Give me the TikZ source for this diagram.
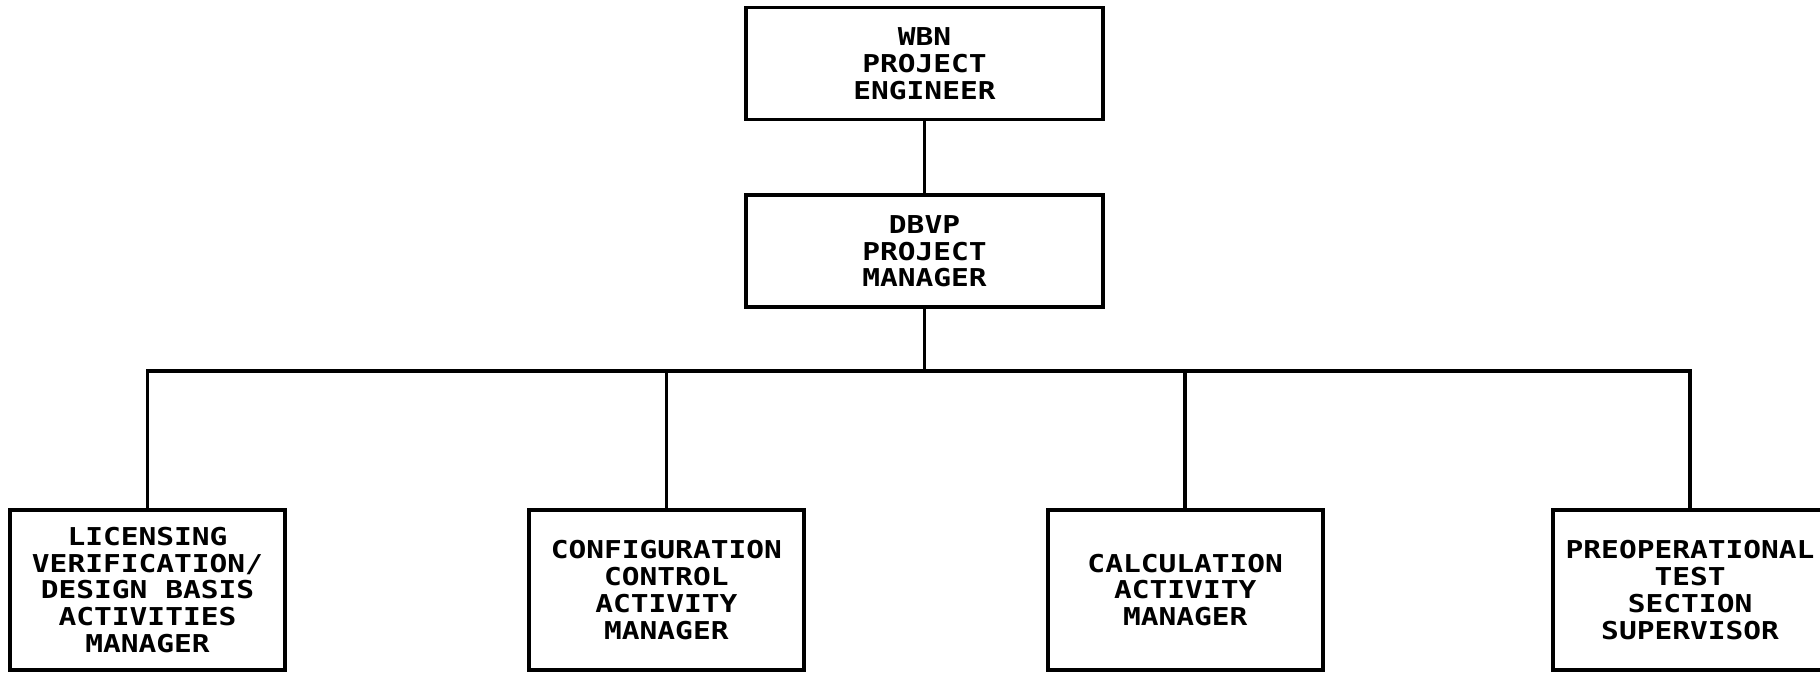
\documentclass[tikz,border=0pt]{standalone}
\usepackage{fontspec}
\newfontfamily\plotfont[FakeStretch=1.2]{DejaVu Sans Mono}
\usetikzlibrary{positioning}

\begin{document}
\begin{tikzpicture}[node distance=7.2mm and 24mm, line width=1pt,
	unit/.style={rectangle, draw, line width=1.1pt, align=center, inner sep=0pt,
		font=\plotfont\bfseries\fontsize{7pt}{7.6pt}\selectfont},
	top unit/.style={unit, minimum width=35.7mm, minimum height=11.2mm},
	low unit/.style={unit, minimum width=27.5mm, minimum height=16mm}]
    \useasboundingbox (0,0) rectangle (18.2,-6.76);

    \node [top unit] (engineer) at (9.245,-0.635) {WBN\\PROJECT\\ENGINEER};
    \node [top unit, below=of engineer] (manager) {DBVP\\PROJECT\\MANAGER};

    \node [low unit] (licensing) at (1.475,-5.9) {LICENSING\\VERIFICATION/\\DESIGN BASIS\\ACTIVITIES\\MANAGER};
    \node [low unit, right=of licensing] (config) {CONFIGURATION\\CONTROL\\ACTIVITY\\MANAGER};
    \node [low unit, right=of config] (calc) {CALCULATION\\ACTIVITY\\MANAGER};
    \node [low unit, right=22.6mm of calc] (preop) {PREOPERATIONAL\\TEST\\SECTION\\SUPERVISOR};

    \coordinate (bus) at (9.245,-3.71);

    \draw (engineer) -- (manager);
    \draw (manager) -- (manager.south |- bus);
	\draw (licensing.north) |- (preop.north |- bus) -- (preop.north);
	\draw (config.north) -- (config.north |- bus);
	\draw (calc.north) -- (calc.north |- bus);
\end{tikzpicture}
\end{document}
